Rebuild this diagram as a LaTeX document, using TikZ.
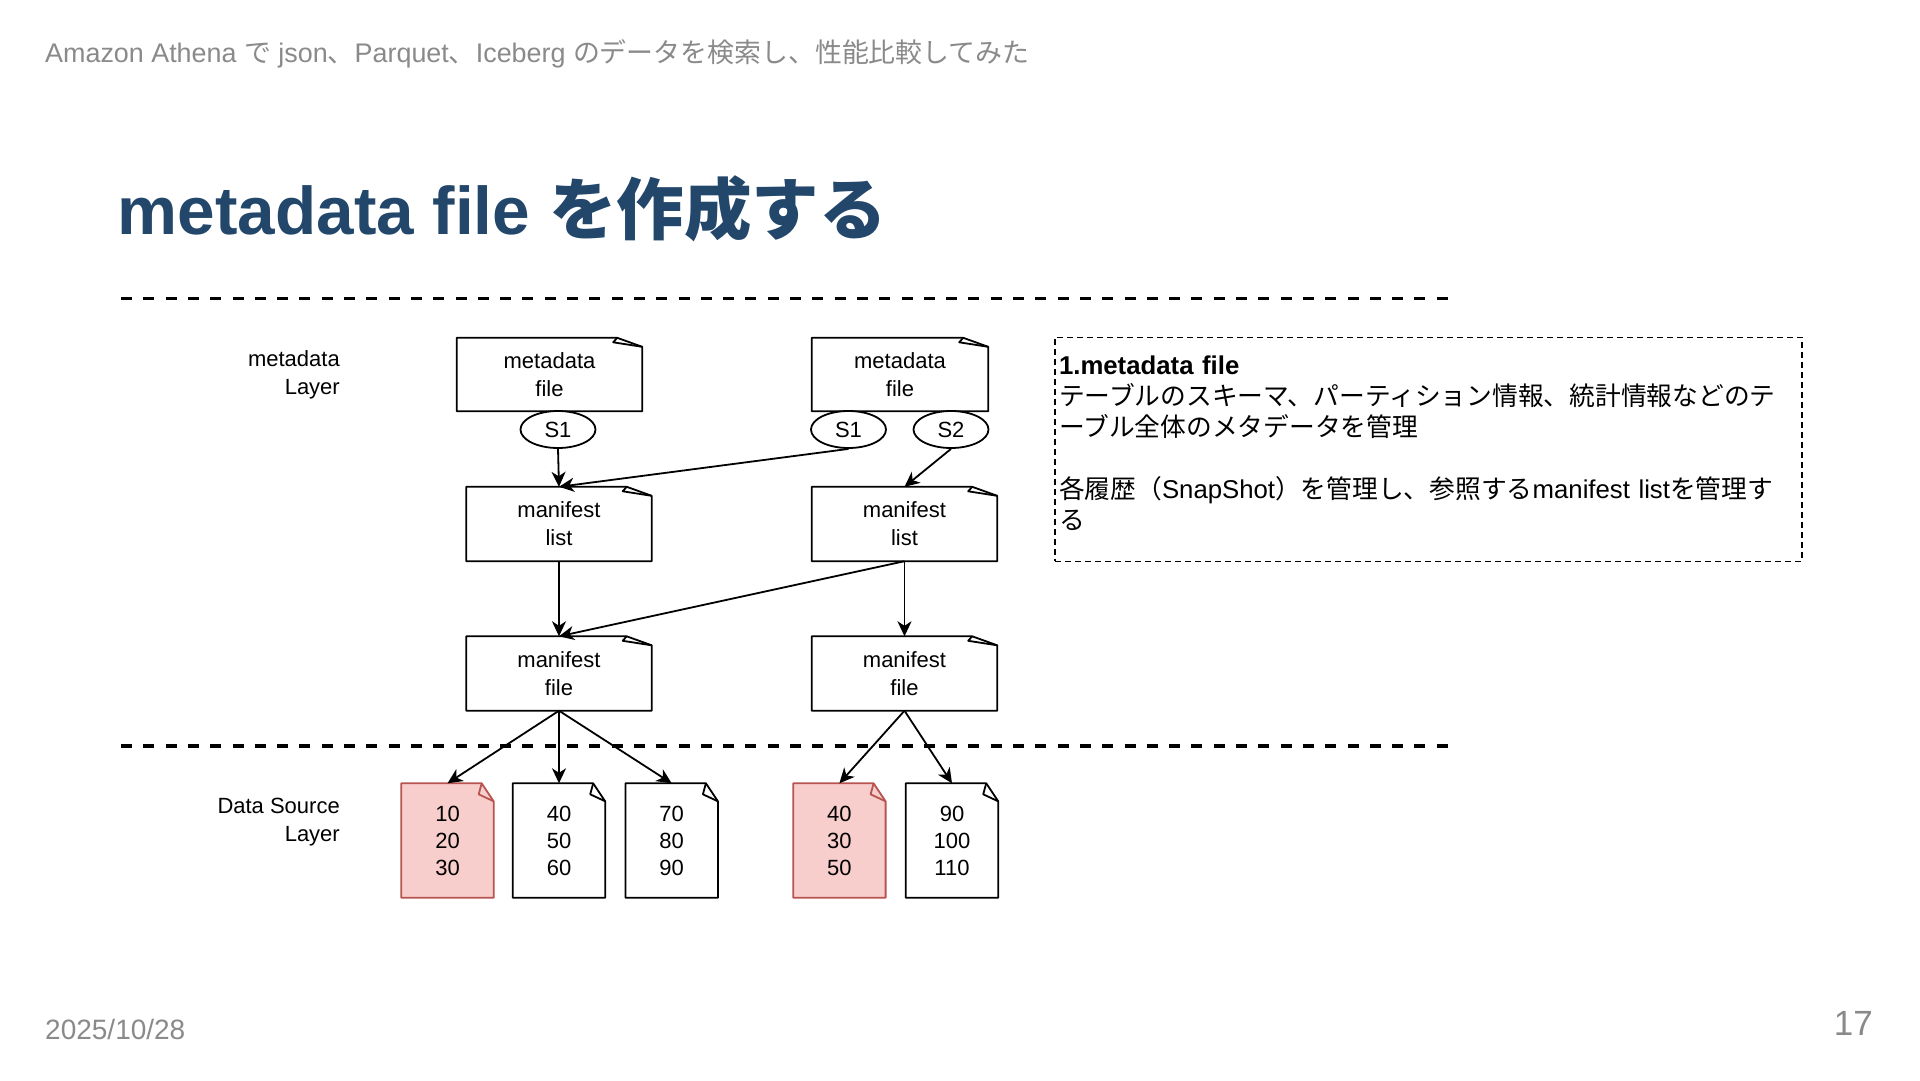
\documentclass[tikz,border=0pt]{standalone}
\usepackage{fontspec}
\setmainfont{Liberation Sans}
\newfontfamily\jp{Noto Sans CJK JP}
\usetikzlibrary{shapes.geometric,arrows.meta,backgrounds}
\pgfdeclarelayer{bottom}
\pgfsetlayers{bottom,background,main}
\definecolor{hdrgray}{HTML}{8A8A8A}
\definecolor{ttlblue}{HTML}{23476B}
\definecolor{pinkf}{HTML}{F8CECC}
\definecolor{pinkd}{HTML}{B85450}

% outline of a note with folded corner: name, fold w, fold h, inner dx, inner dy, style
\newcommand\notefold[6]{%
  \begin{pgfonlayer}{background}
  \draw[#6] (#1.north west) -- ([xshift=-#2pt]#1.north east) -- ([yshift=-#3pt]#1.north east)
     -- (#1.south east) -- (#1.south west) -- cycle;
  \draw[#6, fill=none] ([xshift=-#2pt]#1.north east) -- ([xshift=-#2pt-#4pt, yshift=-#5pt]#1.north east)
     -- ([yshift=-#3pt]#1.north east);
  \end{pgfonlayer}}

\tikzset{
  boxnode/.style={rectangle, inner sep=0, minimum height=73pt, align=center,
    font=\fontsize{22}{28}\selectfont},
  snap/.style={ellipse, draw, line width=1.8pt, fill=white, minimum width=75pt,
    minimum height=37pt, inner sep=0, font=\fontsize{22}{26}\selectfont},
  dfile/.style={rectangle, inner sep=0, minimum width=92pt, minimum height=114pt,
    align=center, font=\fontsize{22}{27}\selectfont},
  arr/.style={-{Stealth[length=15pt,width=14pt,inset=4.5pt]}, line width=1.8pt},
  blackout/.style={line width=1.8pt, draw=black, fill=white, line join=round},
  pinkout/.style={line width=1.8pt, draw=pinkd, fill=pinkf, line join=round},
  sepline/.style={line width=3.6pt, dash pattern=on 11pt off 11.3pt},
  layerlbl/.style={anchor=east, align=right, inner sep=0, font=\fontsize{22}{28}\selectfont}
}

\begin{document}
\begin{tikzpicture}[x=1pt, y=-1pt]
\begin{pgfonlayer}{bottom}
\fill[white] (0,0) rectangle (1920,1080);
\end{pgfonlayer}
\useasboundingbox (0,0) rectangle (1920,1080);

% header, title, footer
\node[anchor=base west, inner sep=0, text=hdrgray, font=\fontsize{26.9}{32}\selectfont] (hdr) at (45,62.5)
  {Amazon Athena {\jp で} json{\jp 、}Parquet{\jp 、}Iceberg {\jp のデータを検索し、性能比較してみた}};
\node[anchor=base west, inner sep=0, text=ttlblue, font=\fontsize{67.5}{80}\selectfont\bfseries] (title) at (117.5,234)
  {metadata file {\jp を作成する}};
\node[anchor=base west, inner sep=0, text=hdrgray, font=\fontsize{28}{32}\selectfont] (date) at (45,1039.6) {2025/10/28};
\node[anchor=base east, inner sep=0, text=hdrgray, font=\fontsize{35}{40}\selectfont] (page) at (1873,1035) {17};

% separators
\coordinate (sepAl) at (121,298.5); \coordinate (sepAr) at (1456,298.5);
\coordinate (sepBl) at (121,746); \coordinate (sepBr) at (1456,746);
\draw[sepline] (sepAl) -- (sepAr);
\draw[sepline] (sepBl) -- (sepBr);

% layer labels
\node[layerlbl] (lay1) at (340,374.5) {metadata\\Layer};
\node[layerlbl] (lay2) at (340,822) {Data Source\\Layer};

% metadata files
\node[boxnode, minimum width=185pt] (md1) at (549.5,374.5) {metadata\\file};
\node[boxnode, minimum width=176pt] (md2) at (900,374.5) {metadata\\file};
\notefold{md1}{25}{9}{4}{4.5}{blackout}
\notefold{md2}{25}{9}{4}{4.5}{blackout}

% snapshots
\node[snap] (s1a) at (558,429.5) {S1};
\node[snap] (s1b) at (848.5,429.5) {S1};
\node[snap] (s2) at (951,429.5) {S2};

% manifest lists
\node[boxnode, minimum width=185pt, minimum height=74pt] (ml1) at (559,524) {manifest\\list};
\node[boxnode, minimum width=185pt, minimum height=74pt] (ml2) at (904.5,524) {manifest\\list};
\notefold{ml1}{25}{9}{4}{4.5}{blackout}
\notefold{ml2}{25}{9}{4}{4.5}{blackout}

% manifest files
\node[boxnode, minimum width=185pt, minimum height=74pt] (mf1) at (559,673.5) {manifest\\file};
\node[boxnode, minimum width=185pt, minimum height=74pt] (mf2) at (904.5,673.5) {manifest\\file};
\notefold{mf1}{25}{9}{4}{4.5}{blackout}
\notefold{mf2}{25}{9}{4}{4.5}{blackout}

% data files
\node[dfile] (fa) at (447.5,840.5) {10\\20\\30};
\node[dfile] (fb) at (559,840.5) {40\\50\\60};
\node[dfile] (fc) at (671.7,840.5) {70\\80\\90};
\node[dfile] (fd) at (839.4,840.5) {40\\30\\50};
\node[dfile] (fe) at (952,840.5) {90\\100\\110};
\notefold{fa}{12}{18}{3}{11}{pinkout}
\notefold{fb}{12}{18}{3}{11}{blackout}
\notefold{fc}{12}{18}{3}{11}{blackout}
\notefold{fd}{12}{18}{3}{11}{pinkout}
\notefold{fe}{12}{18}{3}{11}{blackout}

% connectors
\draw[arr] (s1a.south) -- (ml1.north);
\draw[arr] (s1b.south) -- (ml1.north);
\draw[arr] (s2.south) -- (ml2.north);
\draw[arr] (ml1.south) -- (mf1.north);
\draw[arr] (ml2.south) -- (mf1.north);
\draw[arr] (ml2.south) -- (mf2.north);
\draw[arr] (mf1.south) -- (fa.north);
\draw[arr] (mf1.south) -- (fb.north);
\draw[arr] (mf1.south) -- (fc.north);
\draw[arr] (mf2.south) -- (fd.north);
\draw[arr] (mf2.south) -- (fe.north);

% info box
\node[draw, line width=1.5pt, dash pattern=on 6pt off 4pt, minimum width=747pt, minimum height=224pt,
  inner sep=0, anchor=north west] (info) at (1054.3,336.7) {};
\node[text width=739pt, inner sep=0pt, align=left, font=\fontsize{25.75}{31}\selectfont]
  (infotext) at ([yshift=6pt]info.center)
  {\textbf{1.metadata file}\\
   {\jp テーブルのスキーマ、パーティション情報、統計情報などのテ}\\
   {\jp ーブル全体のメタデータを管理}\\[31pt]
   {\jp 各履歴（}SnapShot{\jp ）を管理し、参照する}manifest list{\jp を管理す}\\
   {\jp る}};
\end{tikzpicture}
\end{document}
